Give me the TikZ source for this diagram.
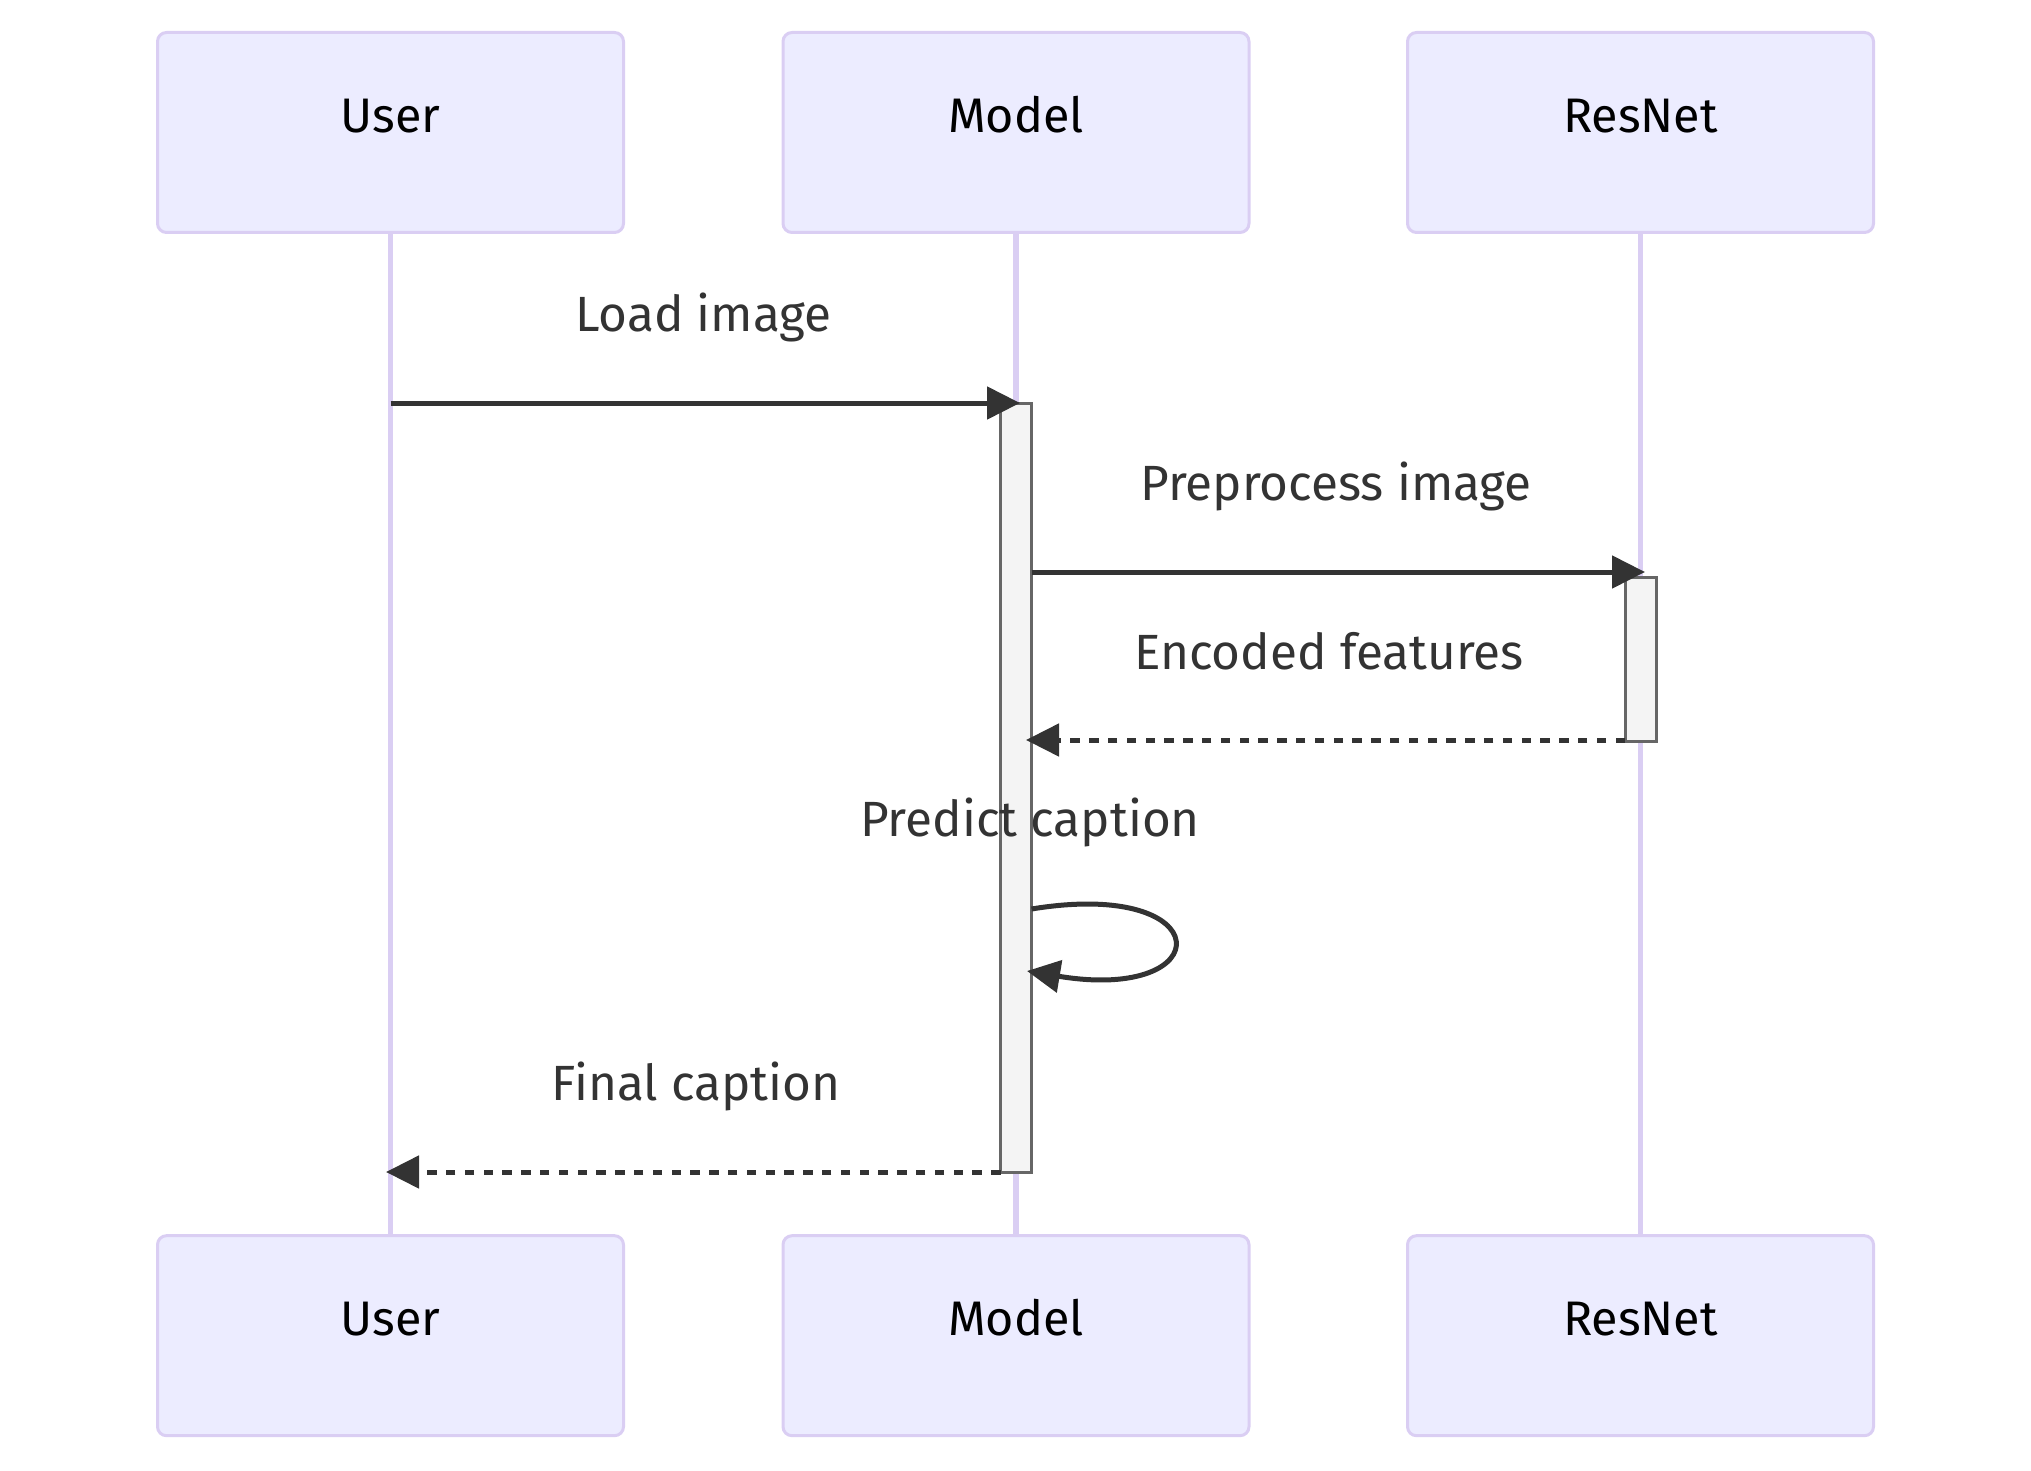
\documentclass[tikz,border=0pt]{standalone}
\usepackage{fontspec}
\setmainfont{Fira Sans}
\usetikzlibrary{arrows.meta}
\definecolor{actfill}{HTML}{ECECFF}
\definecolor{actline}{HTML}{DACEF3}
\definecolor{msg}{HTML}{333333}
\definecolor{barfill}{HTML}{F4F4F4}
\definecolor{barline}{HTML}{666666}
\begin{document}
\begin{tikzpicture}[x=1pt,y=-1pt,
  actor/.style={draw=actline, line width=3pt, fill=actfill, rounded corners=9pt,
    minimum width=466pt, minimum height=200pt, inner sep=0pt, outer sep=0pt},
  actortext/.style={font=\fontsize{48.5}{58}\selectfont, text=black, anchor=base, inner sep=0pt},
  msgtext/.style={font=\fontsize{49.5}{59}\selectfont, text=msg, anchor=base, inner sep=0pt},
  life/.style={draw=actline, line width=5.5pt},
  bar/.style={draw=barline, fill=barfill, line width=3pt, inner sep=0pt, outer sep=0pt,
    minimum width=31pt},
  solidmsg/.style={draw=msg, line width=5pt, -{Triangle[length=33pt,width=32pt]}},
  dashmsg/.style={solidmsg, dash pattern=on 9.4pt off 9.4pt},
]
\useasboundingbox (0,0) rectangle (2031,1471);

% actors (top and bottom)
\node[actor] (uTop) at (390.5,132.5) {};
\node[actor] (mTop) at (1016,132.5) {};
\node[actor] (rTop) at (1640.5,132.5) {};
\node[actor] (uBot) at (390.5,1335.7) {};
\node[actor] (mBot) at (1016,1335.7) {};
\node[actor] (rBot) at (1640.5,1335.7) {};

\node[actortext] (uTopT) at (uTop.center) {User};
\node[actortext] (mTopT) at (mTop.center) {Model};
\node[actortext] (rTopT) at (rTop.center) {ResNet};
\node[actortext] (uBotT) at (uBot.center) {User};
\node[actortext] (mBotT) at (mBot.center) {Model};
\node[actortext] (rBotT) at (rBot.center) {ResNet};

% lifelines
\draw[life] (uTop.south) -- (uBot.north);
\draw[life] (mTop.south) -- (mBot.north);
\draw[life] (rTop.south) -- (rBot.north);

% activation bars
\node[bar, minimum height=769pt] (mAct) at (1016,787.5) {};
\node[bar, minimum height=164pt] (rAct) at (1640.5,659) {};

% message end points
\coordinate (e1) at (1020,403);
\coordinate (s2) at (1031.5,572);
\coordinate (e2) at (1645,572);
\coordinate (s3) at (1625,740);
\coordinate (e3) at (1026,740);
\coordinate (s4) at (1031.5,909);
\coordinate (e4) at (1027,971);
\coordinate (s5) at (1000.5,1172);
\coordinate (e5) at (386,1172);

% messages
\draw[solidmsg] (uTop.south |- e1) -- (e1);
\node[msgtext] (l1) at (703.5,331.7) {Load image};

\draw[solidmsg] (s2) -- (e2);
\node[msgtext] (l2) at (1336,500.7) {Preprocess image};

\draw[dashmsg] (s3) -- (e3);
\node[msgtext] (l3) at (1329,669) {Encoded features};

\draw[solidmsg] (s4) .. controls (1220,878) and (1220,1003) .. (e4);
\node[msgtext] (l4) at (1030,836.7) {Predict caption};

\draw[dashmsg] (s5) -- (e5);
\node[msgtext] (l5) at (696,1100.7) {Final caption};
\end{tikzpicture}
\end{document}
